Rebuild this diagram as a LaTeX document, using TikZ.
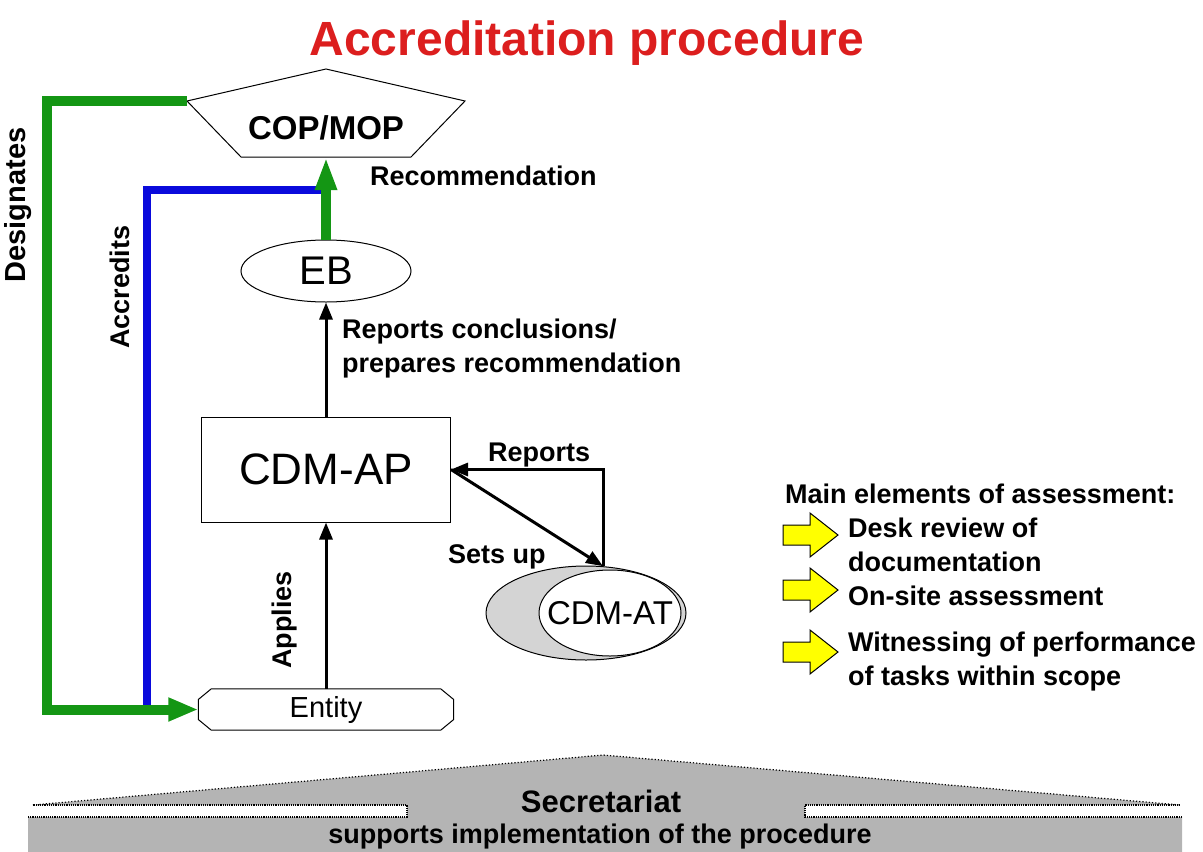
\documentclass[tikz,border=0pt]{standalone}
\usepackage{fontspec}
\setmainfont{Liberation Sans}
\usetikzlibrary{shapes.geometric,arrows.meta,calc}
\definecolor{titlered}{RGB}{220,30,30}
\definecolor{desgreen}{RGB}{20,150,20}
\definecolor{accblue}{RGB}{10,10,220}
\definecolor{secgray}{RGB}{180,180,180}
\definecolor{atgray}{RGB}{212,212,212}
\definecolor{arrowyellow}{RGB}{255,255,0}
\begin{document}
\begin{tikzpicture}[x=1pt,y=-1pt,
  lbl/.style={font=\fontsize{27}{32}\selectfont\bfseries, inner sep=0pt},
  blk/.style={line width=3pt, -{Triangle[length=17pt,width=13pt]}},
  greenline/.style={draw=desgreen, line width=10pt, line join=miter},
  blueline/.style={draw=accblue, line width=8pt, line join=miter},
  thinbox/.style={draw, line width=1pt},
  yarrow/.style={fill=arrowyellow, draw=black, line width=1pt, line join=miter},
  dotline/.style={draw=black, line width=1.2pt, densely dotted}]
\useasboundingbox (0,0) rectangle (1203,852);

% title
\node[font=\fontsize{48}{56}\selectfont\bfseries, text=titlered, anchor=base, inner sep=0] (title) at (587,55) {Accreditation procedure};

% COP/MOP pentagon
\coordinate (copT) at (326,69);
\coordinate (copL) at (187,101);
\coordinate (copR) at (465,101);
\coordinate (copBR) at (411,157);
\coordinate (copBL) at (241,157);
\coordinate (copB) at (326,157);
\draw[line width=1pt, fill=white] (copL) -- (copT) -- (copR) -- (copBR) -- (copBL) -- cycle;
\node[font=\fontsize{33}{38}\selectfont\bfseries, inner sep=0] (cop) at (326,128) {COP/MOP};

% main nodes
\node[ellipse, thinbox, minimum width=170pt, minimum height=62pt, inner sep=0,
      font=\fontsize{40}{46}\selectfont] (eb) at (326,271) {EB};
\node[thinbox, minimum width=249pt, minimum height=105pt, inner sep=0,
      font=\fontsize{44}{50}\selectfont] (ap) at (326,469.5) {CDM-AP};
\node[minimum width=255pt, minimum height=41pt, inner sep=0,
      font=\fontsize{29}{34}\selectfont] (entity) at (326,709.5) {Entity};
\draw[line width=1pt]
  ($(entity.north west)+(13,0)$) -- ($(entity.north east)+(-13,0)$)
  -- ($(entity.east)+(0,-10)$) -- ($(entity.east)+(0,10)$)
  -- ($(entity.south east)+(-13,0)$) -- ($(entity.south west)+(13,0)$)
  -- ($(entity.west)+(0,10)$) -- ($(entity.west)+(0,-10)$) -- cycle;

\node[ellipse, draw, line width=1pt, fill=atgray, minimum width=200pt, minimum height=94pt, inner sep=0] (atout) at (586,613) {};
\node[ellipse, draw, line width=1pt, fill=white, minimum width=142pt, minimum height=86pt, inner sep=0] (atin) at (610,613) {};
\node[font=\fontsize{33}{38}\selectfont, inner sep=0] (at) at (610,613) {CDM-AT};

% blue and green connectors
\coordinate (b1) at (321,190);
\coordinate (b2) at (147,190);
\coordinate (b3) at (147,710);
\draw[blueline] (b1) -- (b2) -- (b3);
\coordinate (g1) at (47,101);
\coordinate (g2) at (47,709.5);
\draw[greenline, -{Triangle[length=30pt,width=22pt]}] (copL) -- (g1) -- (g2) -- (entity.west);
\draw[greenline, -{Triangle[length=33pt,width=20pt]}] (eb.north) -- (copB);

% black connectors
\draw[blk] (ap.north) -- (eb.south);
\draw[blk] (entity.north) -- (ap.south);
\draw[blk] (ap.east) -- (atout.70);
\draw[blk] (atout.70) |- (ap.east);

% labels
\node[lbl, anchor=base west] (lrec) at (370,185) {Recommendation};
\node[lbl, anchor=base west] (lrep1) at (342,338) {Reports conclusions/};
\node[lbl, anchor=base west] (lrep2) at (342,372) {prepares recommendation};
\node[lbl, anchor=base west] (lreports) at (488,461) {Reports};
\node[lbl, anchor=base west] (lsets) at (448,563) {Sets up};
\node[lbl, rotate=90, font=\fontsize{29}{34}\selectfont\bfseries] (ldes) at (18,205) {Designates};
\node[lbl, rotate=90] (lacc) at (120,287) {Accredits};
\node[lbl, rotate=90] (lapp) at (285,620) {Applies};

% assessment list
\node[lbl, anchor=base west] (lmain) at (785,503) {Main elements of assessment:};
\foreach \yc in {535,590,652} {
  \draw[yarrow] (783,\yc-10) -- (810,\yc-10) -- (810,\yc-22) -- (838,\yc)
     -- (810,\yc+22) -- (810,\yc+10) -- (783,\yc+10) -- cycle;
}
\node[lbl, anchor=base west] (ld1) at (848,537) {Desk review of};
\node[lbl, anchor=base west] (ld2) at (848,571) {documentation};
\node[lbl, anchor=base west] (lon) at (848,605) {On-site assessment};
\node[lbl, anchor=base west] (lw1) at (848,651) {Witnessing of performance};
\node[lbl, anchor=base west] (lw2) at (848,685) {of tasks within scope};

% secretariat
\fill[secgray] (28,852) -- (28,817) -- (407,817) -- (407,805) -- (33,805) -- (603,755)
  -- (1180,805) -- (805,805) -- (805,817) -- (1182,817) -- (1182,852) -- cycle;
\draw[dotline] (28,817) -- (407,817) -- (407,805) -- (33,805);
\draw[dotline] (1182,817) -- (805,817) -- (805,805) -- (1180,805);
\draw[draw=black, line width=1.2pt, dotted] (33,805) -- (603,755) -- (1180,805);
\node[font=\fontsize{31}{36}\selectfont\bfseries, anchor=base, inner sep=0] (lsec) at (601,812) {Secretariat};
\node[font=\fontsize{27}{32}\selectfont\bfseries, anchor=base, inner sep=0] (lsup) at (600,843) {supports implementation of the procedure};
\end{tikzpicture}
\end{document}
